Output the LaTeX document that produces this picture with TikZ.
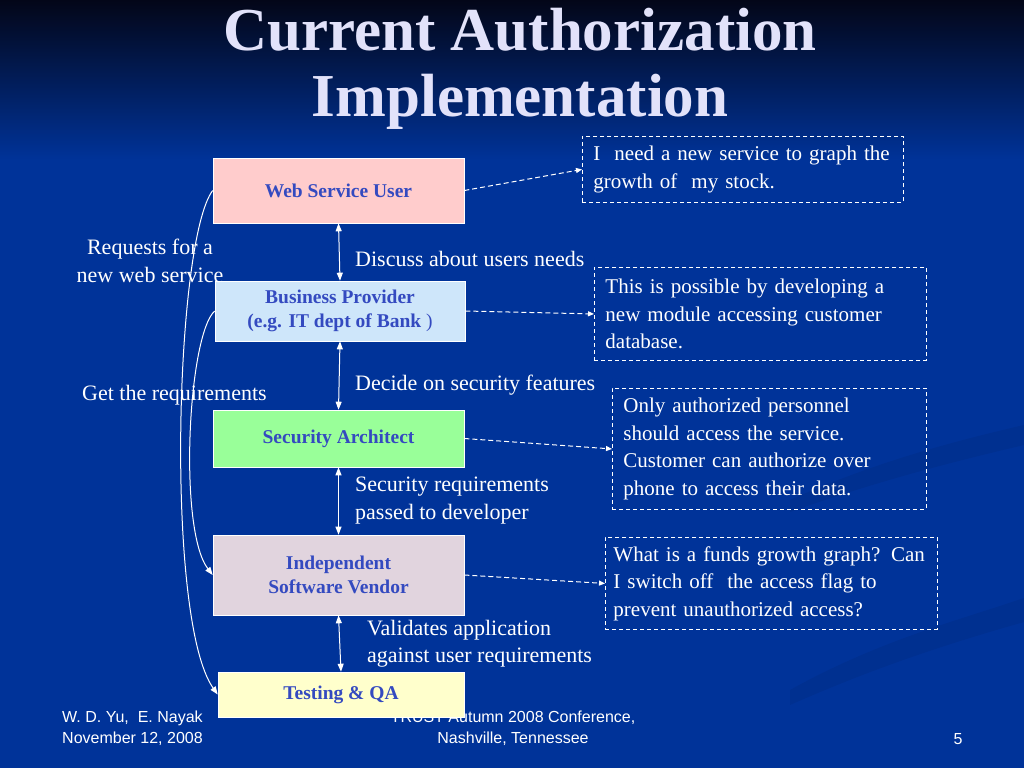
\documentclass[tikz,border=0pt]{standalone}
\usepackage{fontspec}
\setmainfont{Liberation Serif}
\setsansfont{Liberation Sans}
\usetikzlibrary{arrows.meta}

\begin{document}
\begin{tikzpicture}[x=1pt,y=-1pt]
  \definecolor{bgblue}{RGB}{0,51,153}
  \definecolor{bgtop}{RGB}{3,6,24}
  \definecolor{titlec}{RGB}{226,226,250}
  \definecolor{boxtext}{RGB}{52,74,192}
  \definecolor{cuser}{RGB}{255,204,204}
  \definecolor{cprov}{RGB}{206,230,250}
  \definecolor{carch}{RGB}{153,255,153}
  \definecolor{cvend}{RGB}{225,212,222}
  \definecolor{ctest}{RGB}{255,255,204}
  \tikzset{
    role/.style={draw=white,line width=0.6pt,text=boxtext,align=center,
      font=\fontsize{19.5}{24}\selectfont\bfseries,minimum width=251,inner sep=0pt},
    note/.style={draw=white,dashed,dash pattern=on 4pt off 3pt,line width=0.9pt,
      anchor=north west,text=white,align=left,inner xsep=11pt,inner ysep=0pt,
      font=\fontsize{21}{27.4}\selectfont},
    lbl/.style={text=white,align=left,inner sep=0pt,font=\fontsize{22}{27.4}\selectfont},
    foot/.style={text=white,inner sep=0pt,font=\sffamily\fontsize{16}{21}\selectfont},
    link/.style={white,line width=1pt,{Triangle[length=8pt,width=6pt]}-{Triangle[length=8pt,width=6pt]}},
    hint/.style={white,dashed,dash pattern=on 5pt off 3pt,line width=1pt,-{Triangle[length=6pt,width=5pt]}},
    flow/.style={white,line width=1pt,-{Triangle[length=8pt,width=6pt]}}
  }
  \useasboundingbox (0,0) rectangle (1024,768);

  % background
  \fill[bgblue] (0,0) rectangle (1024,768);
  \shade[top color=bgtop,bottom color=bgblue] (0,0) rectangle (1024,160);
  \fill[black,opacity=0.06] (790,500) .. controls (880,460) and (960,440) .. (1024,425)
    -- (1024,445) .. controls (960,460) and (880,480) .. (790,512) -- cycle;
  \fill[black,opacity=0.06] (790,690) .. controls (880,640) and (960,620) .. (1024,598)
    -- (1024,622) .. controls (960,640) and (880,665) .. (790,705) -- cycle;

  % title
  \node[text=titlec,font=\fontsize{61}{72}\selectfont\bfseries] (t1) at (520,30) {Current Authorization};
  \node[text=titlec,font=\fontsize{61}{72}\selectfont\bfseries] (t2) at (520,102) {Implementation};

  % footer
  \node[foot,anchor=west,align=left] (auth) at (62,728.5) {W. D. Yu,\ \ E. Nayak\\November 12, 2008};
  \node[foot,align=center] (conf) at (513,728.5) {TRUST Autumn 2008 Conference,\\Nashville, Tennessee};
  \node[foot] (page) at (958,739) {5};

  % the roles
  \node[role,fill=cuser,minimum height=65] (wsu) at (338.5,190.5) {Web Service User};
  \node[role,fill=cprov,minimum width=250,minimum height=60] (bp) at (340,311)
    {Business Provider\\(e.g. IT dept of Bank {\mdseries)}};
  \node[role,fill=carch,minimum height=57] (sa) at (338.5,438.5) {Security Architect};
  \node[role,fill=cvend,minimum height=80] (isv) at (338.5,575) {Independent\\Software Vendor};
  \node[role,fill=ctest,minimum width=246,minimum height=45] (tqa) at (341,694.5) {Testing \& QA};

  % hand-over between the roles
  \draw[link] (wsu.south) -- (bp.north);
  \draw[link] (bp.south) -- (sa.north);
  \draw[link] (sa.south) -- (isv.north);
  \draw[link] (isv.south) -- (tqa.north);
  \node[lbl,anchor=west] (l1) at (355,259) {Discuss about users needs};
  \node[lbl,anchor=west] (l2) at (355,385) {Decide on security features};
  \node[lbl,anchor=west] (l3) at (355,500.5) {Security requirements\\passed to developer};
  \node[lbl,anchor=west] (l4) at (367,643.5) {Validates application\\against user requirements};

  % what each role says
  \node[note,minimum width=321,minimum height=66,text width=299] (na) at (582,136)
    {I\ \ need a new service to graph the\\growth of\ \ my stock.};
  \node[note,minimum width=332,minimum height=93,text width=310] (nb) at (594,267)
    {This is possible by developing a\\new module accessing customer\\database.};
  \node[note,minimum width=314,minimum height=121,text width=292] (nc) at (612,388)
    {Only authorized personnel\\should access the service.\\Customer can authorize over\\phone to access their data.};
  \node[note,inner xsep=8pt,minimum width=332,minimum height=92,text width=316] (nd) at (605,537)
    {What is a funds growth graph? Can\\I switch off\ \ the access flag to\\prevent unauthorized access?};
  \foreach \s/\t in {wsu/na,bp/nb,sa/nc,isv/nd} \draw[hint] (\s.east) -- (\t.west);

  % requests going down the chain
  \draw[flow] (wsu.west) .. controls (175,240) and (165,620) .. (tqa.west);
  \draw[flow] (bp.west) .. controls (188,335) and (178,530) .. (isv.west);
  \node[lbl,align=center] (req) at (150,261) {Requests for a\\new web service};
  \node[lbl,anchor=west] (get) at (82,395) {Get the requirements};
\end{tikzpicture}
\end{document}
